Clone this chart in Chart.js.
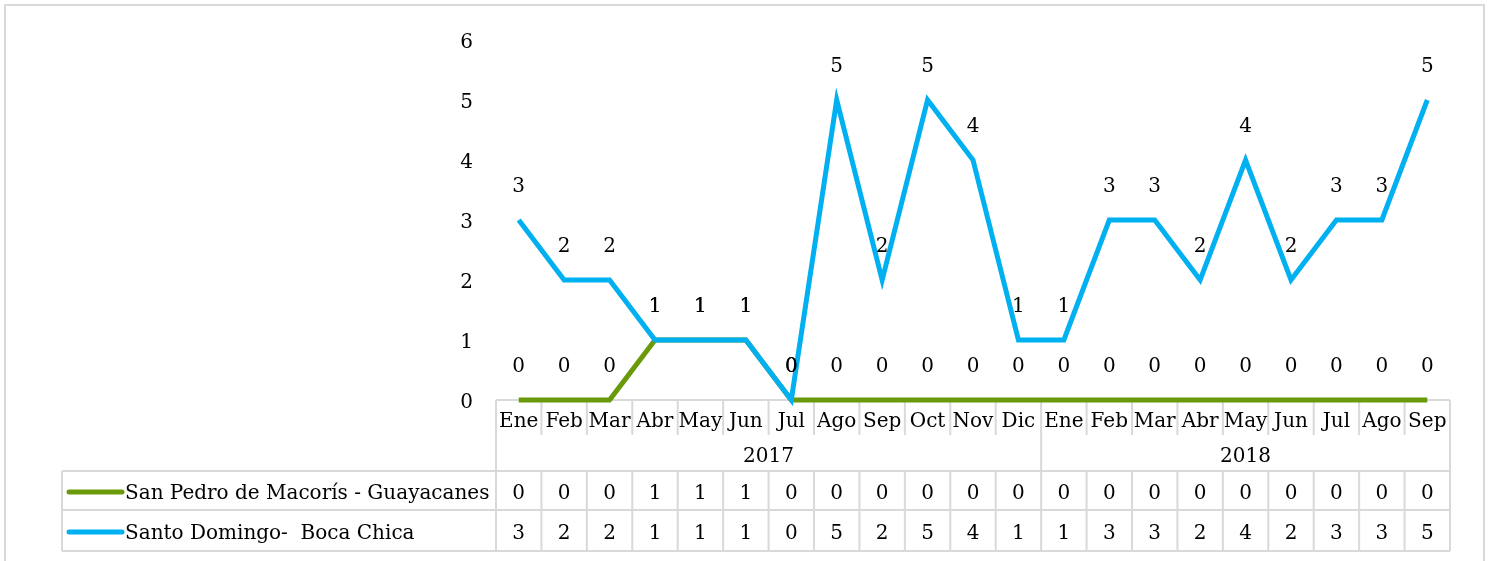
<!DOCTYPE html>
<html>
<head>
<meta charset="utf-8">
<script src="https://cdn.jsdelivr.net/npm/chart.js@4/dist/chart.umd.min.js"></script>
<style>
    body { margin: 0; background: #fff; }
    #wrap { position: relative; width: 1489px; height: 561px; overflow: hidden; }
    #wrap canvas { position: absolute; left: 0; top: 0; }
    .cell {
        position: absolute;
        font-family: 'DejaVu Serif', serif;
        font-size: 20px;
        line-height: 20px;
        color: #000;
        white-space: pre;
        transform: translate(-50%, -50%);
    }
    .cell.name { transform: translate(0, -50%); }
</style>
</head>
<body>
<div id="wrap"><canvas id="chart" width="1489" height="561"></canvas></div>
<script>
// ===== Data =====
const months = ['Ene', 'Feb', 'Mar', 'Abr', 'May', 'Jun', 'Jul', 'Ago', 'Sep', 'Oct', 'Nov', 'Dic',
                'Ene', 'Feb', 'Mar', 'Abr', 'May', 'Jun', 'Jul', 'Ago', 'Sep'];
const years = ['2017', '2018'];
const monthsPerYear = [12, 9];
const seriesNames = ['San Pedro de Macorís - Guayacanes', 'Santo Domingo-  Boca Chica'];
const guayacanes = [0, 0, 0, 1, 1, 1, 0, 0, 0, 0, 0, 0, 0, 0, 0, 0, 0, 0, 0, 0, 0];
const bocaChica = [3, 2, 2, 1, 1, 1, 0, 5, 2, 5, 4, 1, 1, 3, 3, 2, 4, 2, 3, 3, 5];
const yMin = 0, yMax = 6, yStep = 1;

const GREEN = '#6a9a0a';
const BLUE = '#00b0f0';
const GRID = '#d9d9d9';
const FONT = '"DejaVu Serif", serif';

// table rows (y pixels)
const ROW = { monthMid: 420, monthEnd: 435, yearMid: 455, yearEnd: 471, r1Mid: 492, r1End: 510, r2Mid: 532, r2End: 551 };
const TABLE_LEFT = 62;

function bounds(chart) {
    const a = chart.chartArea;
    const w = (a.right - a.left) / months.length;
    return { left: a.left, right: a.right, top: a.bottom, w };
}

// ============ PLUGINS ============

const framePlugin = {
    id: 'frame',
    beforeDraw(chart) {
        const ctx = chart.ctx;
        ctx.save();
        ctx.strokeStyle = GRID;
        ctx.lineWidth = 2;
        ctx.strokeRect(5, 5, 1479, 620);
        ctx.restore();
    }
};

// data table grid lines + legend keys
const tablePlugin = {
    id: 'tableGrid',
    beforeDatasetsDraw(chart) {
        const ctx = chart.ctx;
        const b = bounds(chart);
        const n = months.length;
        ctx.save();
        ctx.strokeStyle = GRID;
        ctx.lineWidth = 2;
        ctx.beginPath();
        ctx.moveTo(b.left, b.top); ctx.lineTo(b.right, b.top);
        for (const y of [ROW.yearEnd, ROW.r1End, ROW.r2End]) {
            ctx.moveTo(TABLE_LEFT, y); ctx.lineTo(b.right, y);
        }
        ctx.moveTo(TABLE_LEFT, ROW.yearEnd); ctx.lineTo(TABLE_LEFT, ROW.r2End);
        for (let i = 0; i <= n; i++) {
            const x = b.left + i * b.w;
            if (i === 0 || i === n || i === monthsPerYear[0]) {
                ctx.moveTo(x, b.top); ctx.lineTo(x, ROW.r2End);
            } else {
                ctx.moveTo(x, b.top); ctx.lineTo(x, ROW.monthEnd);
                ctx.moveTo(x, ROW.yearEnd); ctx.lineTo(x, ROW.r2End);
            }
        }
        ctx.stroke();

        // legend keys
        ctx.lineWidth = 5;
        ctx.lineCap = 'round';
        [[GREEN, ROW.r1Mid], [BLUE, ROW.r2Mid]].forEach(([c, y]) => {
            ctx.strokeStyle = c;
            ctx.beginPath();
            ctx.moveTo(69, y); ctx.lineTo(122, y);
            ctx.stroke();
        });
        ctx.restore();
    }
};

// value labels above each point
const valueLabels = {
    id: 'valueLabels',
    afterDatasetsDraw(chart) {
        const ctx = chart.ctx;
        ctx.save();
        ctx.font = '20px ' + FONT;
        ctx.fillStyle = '#000';
        ctx.textAlign = 'center';
        ctx.textBaseline = 'middle';
        chart.data.datasets.forEach((ds, di) => {
            const meta = chart.getDatasetMeta(di);
            meta.data.forEach((pt, i) => {
                ctx.fillText(String(ds.data[i]), pt.x, pt.y - 33);
            });
        });
        ctx.restore();
    }
};

const chart = new Chart(document.getElementById('chart'), {
    type: 'line',
    data: {
        labels: months,
        datasets: [{
            label: seriesNames[0],
            data: guayacanes,
            borderColor: GREEN,
            backgroundColor: GREEN,
            borderWidth: 5,
            pointRadius: 0,
            tension: 0,
            clip: false,
            order: 2,
        }, {
            label: seriesNames[1],
            data: bocaChica,
            borderColor: BLUE,
            backgroundColor: BLUE,
            borderWidth: 5,
            pointRadius: 0,
            tension: 0,
            clip: false,
            order: 1,
        }]
    },
    options: {
        responsive: false,
        animation: false,
        devicePixelRatio: 1,
        layout: { padding: { top: 40, right: 39, bottom: 161, left: 0 } },
        plugins: {
            legend: { display: false },
            tooltip: { enabled: false }
        },
        scales: {
            x: { display: false, offset: true },
            y: {
                min: yMin,
                max: yMax,
                afterFit: s => { s.width = 496; },
                grid: { display: false, drawTicks: false },
                border: { display: false },
                ticks: {
                    stepSize: yStep,
                    padding: 23,
                    labelOffset: 3,
                    color: '#000',
                    font: { family: FONT, size: 20 }
                }
            }
        }
    },
    plugins: [framePlugin, tablePlugin, valueLabels]
});

// ===== Data table text (HTML) =====
(function buildTable() {
    const wrap = document.getElementById('wrap');
    const b = bounds(chart);
    function cell(text, x, y, cls) {
        const d = document.createElement('div');
        d.className = 'cell' + (cls ? ' ' + cls : '');
        d.textContent = text;
        d.style.left = x + 'px';
        d.style.top = y + 'px';
        wrap.appendChild(d);
    }
    months.forEach((m, i) => {
        const cx = b.left + (i + 0.5) * b.w;
        cell(m, cx, ROW.monthMid);
        cell(String(guayacanes[i]), cx, ROW.r1Mid);
        cell(String(bocaChica[i]), cx, ROW.r2Mid);
    });
    let start = 0;
    years.forEach((y, k) => {
        const end = start + monthsPerYear[k];
        cell(y, b.left + (start + end) / 2 * b.w, ROW.yearMid);
        start = end;
    });
    cell(seriesNames[0], 125, ROW.r1Mid, 'name');
    cell(seriesNames[1], 125, ROW.r2Mid, 'name');
})();
</script>
</body>
</html>
